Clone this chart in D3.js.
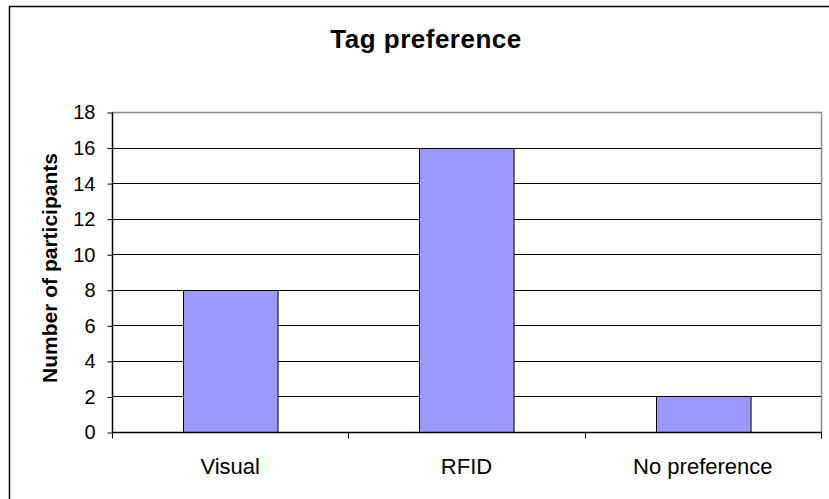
<!DOCTYPE html>
<html>
<head>
<meta charset="utf-8">
<script src="https://cdn.jsdelivr.net/npm/d3@7"></script>
<style>
  body { margin: 0; background: #fff; }
  text { font-family: Arial, "Liberation Sans", sans-serif; }
</style>
</head>
<body>
<div id="draw"></div>
<script>
// bar chart: tag preference
var categories = ['Visual', 'RFID', 'No preference'];
var counts = [8, 16, 2];
var yTicks = [0, 2, 4, 6, 8, 10, 12, 14, 16, 18];

var W = 829, H = 499;
var plot = {left: 112, top: 112, right: 821, bottom: 432};

var svg = d3.select('#draw').append('svg')
    .attr('width', W).attr('height', H);

// outer chart border (runs off the picture on the right and bottom)
svg.append('rect')
    .attr('x', 9.5).attr('y', 6.5)
    .attr('width', W + 20).attr('height', H + 20)
    .attr('fill', '#fff').attr('stroke', '#000').attr('stroke-width', 1.5);

var x = d3.scaleBand().domain(categories)
    .range([plot.left, plot.right]).paddingInner(0.6).paddingOuter(0.3);
var xb = d3.scaleBand().domain(categories).range([plot.left, plot.right]);
var y = d3.scaleLinear().domain([0, 18]).range([plot.bottom, plot.top]);

// gridlines
svg.append('g').selectAll('line').data(yTicks.slice(1, -1)).enter()
    .append('line')
    .attr('x1', plot.left).attr('x2', plot.right)
    .attr('y1', function(d){ return Math.round(y(d)) + 0.5; })
    .attr('y2', function(d){ return Math.round(y(d)) + 0.5; })
    .attr('stroke', '#000').attr('stroke-width', 1);

// plot area border (top and right, grey)
svg.append('path')
    .attr('d', 'M' + plot.left + ',' + (plot.top + 0.5) + ' H' + (plot.right + 0.5) + ' V' + plot.bottom)
    .attr('fill', 'none').attr('stroke', '#8c8c8c').attr('stroke-width', 1.5);

// bars
svg.append('g').selectAll('rect').data(counts).enter()
    .append('rect')
    .attr('x', function(d, i){ return Math.round(x(categories[i])) + 0.5; })
    .attr('y', function(d){ return Math.round(y(d)) + 0.5; })
    .attr('width', x.bandwidth())
    .attr('height', function(d){ return plot.bottom - Math.round(y(d)); })
    .attr('fill', '#9999ff').attr('stroke', '#000').attr('stroke-width', 1);

// y axis
var yAxis = d3.axisLeft(y).tickValues(yTicks).tickSize(5).tickPadding(12);
var gy = svg.append('g').attr('transform', 'translate(' + (plot.left + 0.5) + ',0.5)').call(yAxis);
gy.select('.domain').attr('d', 'M-0,' + plot.top + 'V' + plot.bottom).attr('stroke-width', 1.5);
gy.selectAll('text').attr('font-size', 20).attr('fill', '#000')
    .style('font-family', 'Arial, "Liberation Sans", sans-serif');

// x axis with ticks between categories
var gx = svg.append('g').attr('transform', 'translate(0,' + (plot.bottom + 0.5) + ')');
gx.append('line').attr('x1', plot.left).attr('x2', plot.right + 1)
    .attr('stroke', '#000').attr('stroke-width', 1.5);
var edges = categories.map(function(c){ return xb(c); }).concat([plot.right]);
gx.selectAll('line.tk').data(edges).enter().append('line')
    .attr('class', 'tk')
    .attr('x1', function(d){ return Math.round(d) + 0.5; })
    .attr('x2', function(d){ return Math.round(d) + 0.5; })
    .attr('y1', 0).attr('y2', 6)
    .attr('stroke', '#000').attr('stroke-width', 1);
gx.selectAll('text').data(categories).enter().append('text')
    .attr('x', function(d){ return xb(d) + xb.bandwidth() / 2; })
    .attr('y', 41)
    .attr('text-anchor', 'middle')
    .attr('font-size', 22)
    .text(function(d){ return d; });

// title
svg.append('text')
    .attr('x', 426).attr('y', 48)
    .attr('text-anchor', 'middle')
    .attr('font-size', 26).attr('font-weight', 'bold')
    .attr('letter-spacing', 0.5)
    .text('Tag preference');

// y axis title
svg.append('text')
    .attr('transform', 'translate(57,268) rotate(-90)')
    .attr('text-anchor', 'middle')
    .attr('font-size', 21).attr('font-weight', 'bold')
    .text('Number of participants');
</script>
</body>
</html>
